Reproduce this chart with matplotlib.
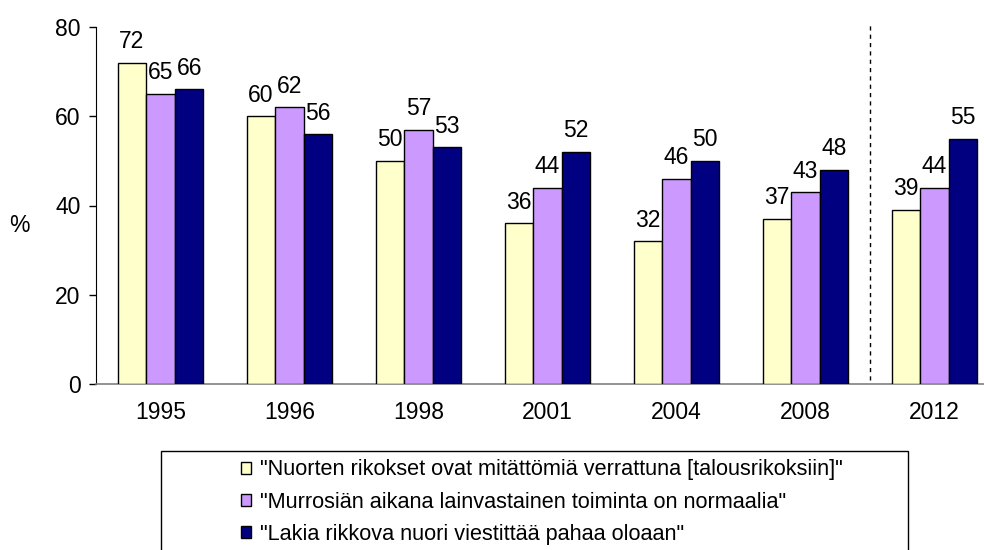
import matplotlib
matplotlib.use("Agg")
import matplotlib.pyplot as plt
import numpy as np
from matplotlib.patches import Rectangle

years = ["1995", "1996", "1998", "2001", "2004", "2008", "2012"]
mitattomia = [72, 60, 50, 36, 32, 37, 39]
murrosika = [65, 62, 57, 44, 46, 43, 44]
pahaa_oloa = [66, 56, 53, 52, 50, 48, 55]
series_labels = [
    '"Nuorten rikokset ovat mitättömiä verrattuna [talousrikoksiin]"',
    '"Murrosiän aikana lainvastainen toiminta on normaalia"',
    '"Lakia rikkova nuori viestittää pahaa oloaan"',
]
colors = ["#FFFFCC", "#CC99FF", "#000080"]

plt.rcParams["font.family"] = ["Liberation Sans", "DejaVu Sans"]

W, H = 984, 550
fig = plt.figure(figsize=(W / 100, H / 100), dpi=100)
fig.patch.set_facecolor("white")

# akselit: vasen reuna 96px, 0-taso 384px, 80-taso 27px
ax = fig.add_axes([96 / W, (H - 384) / H, 903 / W, (384 - 27) / H])

x = np.arange(len(years))
width = 0.222
for i, vals in enumerate([mitattomia, murrosika, pahaa_oloa]):
    pos = x + (i - 1) * width
    ax.bar(pos, vals, width, color=colors[i], edgecolor="black",
           linewidth=1.0, label=series_labels[i], zorder=3)
    for xp, v in zip(pos, vals):
        ax.annotate(str(v), (xp, v), xytext=(0, 10.5), textcoords="offset points",
                    ha="center", va="baseline", fontsize=16.5, color="black")

# katkoviiva 2008 ja 2012 välissä
ax.plot([5.5, 5.5], [1, 80.5], color="black", linestyle=(0, (3, 3)),
        linewidth=1.0, clip_on=False, zorder=4)

ax.set_xlim(-0.5, 6.5)
ax.set_ylim(0, 80)
ax.set_yticks([0, 20, 40, 60, 80])
ax.set_xticks(x)
ax.set_xticklabels(years)
ax.tick_params(axis="x", length=0, pad=12, labelsize=16.5)
ax.tick_params(axis="y", direction="out", length=5, width=1, pad=6, labelsize=16.5)

for s in ["top", "right"]:
    ax.spines[s].set_visible(False)
ax.spines["left"].set_color("black")
ax.spines["bottom"].set_color("#808080")
ax.spines["bottom"].set_linewidth(1.2)

fig.text(19 / W, 1 - 226 / H, "%", ha="center", va="center", fontsize=16.5)

# selitteen kehys (jatkuu kuvan alareunan yli)
fig.patches.append(Rectangle((161 / W, -0.1), (908 - 161) / W, 0.1 + (H - 451) / H,
                             transform=fig.transFigure, facecolor="white",
                             edgecolor="black", linewidth=1.0, zorder=0))

handles, labels = ax.get_legend_handles_labels()
leg = fig.legend(handles, labels, loc="upper left",
                 bbox_to_anchor=(234 / W, 1 - 453 / H), frameon=False,
                 prop={"size": 15.6},
                 handlelength=0.48, handleheight=0.48, handletextpad=0.4,
                 labelspacing=0.52, borderaxespad=0, borderpad=0.3)

fig.savefig("out.png", dpi=100, facecolor="white")
